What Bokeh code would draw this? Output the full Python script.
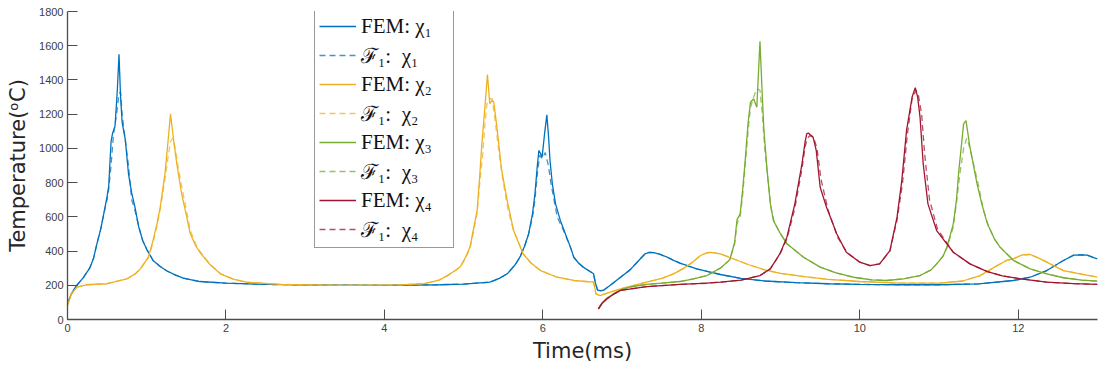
from bokeh.plotting import figure
from bokeh.models import Range1d, FixedTicker
from bokeh.embed import file_html
from bokeh.resources import INLINE

# ---------------- data ----------------
x_ticks = [0, 2, 4, 6, 8, 10, 12]
y_ticks = [0, 200, 400, 600, 800, 1000, 1200, 1400, 1600, 1800]

labels = ["FEM: χ₁", "ℱ₁:  χ₁", "FEM: χ₂", "ℱ₁:  χ₂",
          "FEM: χ₃", "ℱ₁:  χ₃", "FEM: χ₄", "ℱ₁:  χ₄"]

# chi_1  (blue)
t_fem1 = [0, 0.05, 0.1, 0.2, 0.28, 0.33, 0.37, 0.42, 0.45, 0.5, 0.52, 0.55, 0.57, 0.6, 0.63, 0.65,
          0.67, 0.69, 0.73, 0.77, 0.81, 0.85, 0.9, 0.95, 1.0, 1.08, 1.17, 1.25, 1.35, 1.46, 1.67, 2.0,
          2.5, 3.0, 4.0, 4.7, 5.0, 5.33, 5.45, 5.55, 5.65, 5.71, 5.77, 5.82, 5.87, 5.9, 5.93, 5.95,
          5.97, 5.99, 6.02, 6.05, 6.07, 6.09, 6.12, 6.16, 6.22, 6.26, 6.3, 6.35, 6.39, 6.45, 6.51,
          6.58, 6.64, 6.66, 6.69, 6.73, 6.77, 6.85, 6.98, 7.1, 7.21, 7.29, 7.34, 7.4, 7.48, 7.57,
          7.65, 7.73, 7.85, 7.94, 8.1, 8.24, 8.5, 8.8, 9.2, 9.6, 10.0, 10.5, 11.0, 11.5, 11.94,
          12.15, 12.36, 12.57, 12.7, 12.8, 12.87, 12.95, 13.0]
T_fem1 = [93, 150, 190, 245, 300, 360, 440, 530, 600, 720, 780, 1040, 1090, 1130, 1350, 1550,
          1300, 1150, 1050, 850, 740, 660, 540, 460, 410, 345, 310, 285, 262, 242, 222, 212,
          205, 202, 200, 203, 207, 218, 240, 267, 320, 364, 430, 500, 620, 735, 900, 988,
          970, 949, 1080, 1196, 1080, 929, 790, 676, 579, 530, 481, 420, 364, 330, 306,
          285, 267, 218, 172, 168, 172, 200, 247, 290, 345, 384, 392, 391, 380, 364,
          346, 329, 310, 296, 278, 263, 240, 225, 215, 209, 205, 203, 203, 208, 228,
          247, 286, 345, 376, 378, 376, 362, 355]
t_f1_1 = [0, 0.05, 0.1, 0.2, 0.28, 0.33, 0.37, 0.42, 0.45, 0.5, 0.52, 0.55, 0.58, 0.62, 0.65,
          0.67, 0.69, 0.72, 0.77, 0.81, 0.85, 0.9, 0.95, 1.0, 1.08, 1.17, 1.25, 1.35, 1.46, 1.67,
          2.0, 2.5, 3.0, 4.0, 4.7, 5.0, 5.33, 5.45, 5.55, 5.65, 5.71, 5.77, 5.82, 5.87, 5.9, 5.93,
          5.96, 5.99, 6.03, 6.07, 6.1, 6.14, 6.18, 6.22, 6.26, 6.3, 6.35, 6.39, 6.45, 6.51, 6.58,
          6.64, 6.66, 6.69, 6.73, 6.77, 6.85, 6.98, 7.1, 7.21, 7.29, 7.34, 7.4, 7.48, 7.57, 7.65,
          7.73, 7.85, 7.94, 8.1, 8.24, 8.5, 8.8, 9.2, 9.6, 10.0, 10.5, 11.0, 11.5, 11.94, 12.15,
          12.36, 12.57, 12.7, 12.8, 12.87, 12.95, 13.0]
T_f1_1 = [93, 150, 190, 245, 300, 360, 440, 530, 600, 700, 760, 900, 1080, 1200, 1320,
          1330, 1200, 1080, 900, 700, 640, 540, 460, 410, 345, 310, 285, 262, 242, 222,
          212, 205, 202, 200, 203, 207, 218, 240, 267, 320, 364, 430, 500, 600, 700, 850,
          960, 940, 975, 900, 800, 700, 600, 560, 520, 475, 420, 364, 330, 306, 285,
          267, 218, 172, 168, 172, 200, 247, 290, 345, 384, 392, 391, 380, 364, 346,
          329, 310, 296, 278, 263, 240, 225, 215, 209, 205, 203, 203, 208, 228, 247,
          286, 345, 376, 378, 376, 362, 355]

# chi_2  (orange)
t_fem2 = [0, 0.05, 0.12, 0.24, 0.5, 0.75, 0.85, 0.92, 1.02, 1.08, 1.13, 1.17, 1.23, 1.27, 1.3,
          1.34, 1.38, 1.44, 1.5, 1.55, 1.62, 1.67, 1.8, 1.93, 2.1, 2.26, 2.68, 3.5, 4.2, 4.5,
          4.6, 4.7, 4.8, 4.9, 4.96, 5.02, 5.08, 5.12, 5.17, 5.2, 5.23, 5.27, 5.3, 5.33, 5.36,
          5.38, 5.42, 5.48, 5.55, 5.63, 5.75, 5.85, 5.97, 6.18, 6.39, 6.64, 6.67, 6.72, 6.85,
          6.98, 7.31, 7.5, 7.65, 7.78, 7.86, 7.99, 8.07, 8.12, 8.24, 8.4, 8.6, 8.8, 9.0, 9.3,
          9.6, 10.0, 10.5, 11.0, 11.3, 11.52, 11.7, 11.85, 11.94, 12.05, 12.15, 12.25, 12.36,
          12.57, 12.78, 13.0]
T_fem2 = [82, 151, 189, 203, 209, 238, 265, 296, 364, 462, 560, 656, 851, 1046, 1202,
          1046, 910, 735, 610, 501, 430, 393, 320, 267, 235, 218, 205, 200, 202, 210,
          220, 232, 258, 288, 310, 360, 423, 520, 637, 820, 1027, 1250, 1432, 1261, 1280,
          1270, 1124, 871, 695, 520, 384, 330, 286, 247, 228, 218, 150, 140, 160,
          179, 218, 240, 267, 300, 325, 374, 390, 392, 384, 355, 320, 290, 270, 250,
          235, 222, 212, 212, 225, 257, 306, 345, 355, 378, 380, 360, 335,
          286, 267, 247]
t_f1_2 = [0, 0.05, 0.12, 0.24, 0.5, 0.75, 0.85, 0.92, 1.02, 1.08, 1.13, 1.17, 1.23, 1.27, 1.3,
          1.33, 1.36, 1.4, 1.45, 1.5, 1.55, 1.62, 1.67, 1.8, 1.93, 2.1, 2.26, 2.68, 3.5, 4.2,
          4.5, 4.6, 4.7, 4.8, 4.9, 4.96, 5.02, 5.08, 5.12, 5.17, 5.2, 5.24, 5.27, 5.3, 5.33,
          5.36, 5.4, 5.45, 5.5, 5.56, 5.63, 5.75, 5.85, 5.97, 6.18, 6.39, 6.64, 6.67, 6.72,
          6.85, 6.98, 7.31, 7.5, 7.65, 7.78, 7.86, 7.99, 8.07, 8.12, 8.24, 8.4, 8.6, 8.8, 9.0,
          9.3, 9.6, 10.0, 10.5, 11.0, 11.3, 11.52, 11.7, 11.85, 11.94, 12.05, 12.15, 12.25,
          12.36, 12.57, 12.78, 13.0]
T_f1_2 = [82, 151, 189, 203, 209, 238, 265, 296, 360, 450, 550, 640, 820, 950, 1040,
          1060, 1000, 880, 760, 640, 520, 440, 400, 322, 268, 235, 218, 205, 200, 202,
          210, 220, 232, 258, 288, 310, 355, 415, 500, 620, 780, 960, 1150, 1280, 1290,
          1290, 1150, 960, 800, 640, 520, 384, 330, 286, 247, 228, 218, 150, 140,
          160, 179, 218, 240, 267, 300, 325, 374, 390, 392, 384, 355, 320, 290, 270,
          250, 235, 222, 212, 212, 225, 257, 306, 345, 355, 378, 380, 360,
          335, 286, 267, 247]

# chi_3  (green)
t_fem3 = [6.7, 6.75, 6.81, 6.9, 6.98, 7.1, 7.31, 7.5, 7.73, 7.9, 8.07, 8.24, 8.36, 8.42, 8.45,
          8.49, 8.52, 8.55, 8.59, 8.62, 8.66, 8.7, 8.74, 8.77, 8.79, 8.83, 8.87, 8.91, 9.0,
          9.08, 9.29, 9.5, 9.7, 9.92, 10.15, 10.34, 10.55, 10.76, 10.9, 10.97, 11.05, 11.1,
          11.18, 11.22, 11.25, 11.31, 11.34, 11.39, 11.48, 11.54, 11.61, 11.7, 11.77, 11.94,
          12.15, 12.36, 12.57, 12.8, 13.0]
T_fem3 = [62, 100, 125, 152, 172, 190, 205, 212, 222, 238, 257, 300, 350, 450, 582,
          617, 750, 910, 1150, 1270, 1290, 1240, 1626, 1300, 1105, 870, 680, 578, 500,
          443, 364, 306, 272, 247, 232, 228, 238, 257, 290, 325, 370, 423,
          559, 700, 870, 1143, 1163, 1007, 793, 676, 559, 470, 423, 345,
          296, 267, 244, 230, 224]
t_f1_3 = [6.7, 6.75, 6.81, 6.9, 6.98, 7.1, 7.31, 7.5, 7.73, 7.9, 8.07, 8.24, 8.36, 8.42, 8.45,
          8.49, 8.52, 8.55, 8.59, 8.62, 8.66, 8.7, 8.74, 8.77, 8.8, 8.84, 8.88, 8.92, 9.0,
          9.08, 9.29, 9.5, 9.7, 9.92, 10.15, 10.34, 10.55, 10.76, 10.9, 10.97, 11.05, 11.1,
          11.18, 11.22, 11.26, 11.31, 11.35, 11.39, 11.45, 11.5, 11.56, 11.63, 11.7, 11.77,
          11.94, 12.15, 12.36, 12.57, 12.8, 13.0]
T_f1_3 = [62, 100, 125, 152, 172, 190, 205, 212, 222, 238, 257, 300, 350, 440, 560,
          600, 720, 880, 1100, 1240, 1300, 1350, 1340, 1200, 1000, 820, 650, 570, 500,
          443, 364, 306, 272, 247, 232, 228, 238, 257, 290, 325, 370, 420,
          540, 680, 840, 1000, 1060, 1000, 880, 780, 640, 540, 470, 423,
          345, 296, 267, 244, 230, 224]

# chi_4  (dark red)
t_fem4 = [6.7, 6.75, 6.81, 6.9, 6.98, 7.31, 7.73, 8.07, 8.24, 8.5, 8.74, 8.87, 8.99, 9.08,
          9.18, 9.27, 9.31, 9.33, 9.35, 9.41, 9.45, 9.5, 9.58, 9.71, 9.83, 10.0, 10.13, 10.25,
          10.38, 10.47, 10.53, 10.59, 10.66, 10.7, 10.73, 10.76, 10.8, 10.86, 10.97, 11.18,
          11.39, 11.61, 11.8, 12.03, 12.36, 12.7, 13.0]
T_fem4 = [62, 95, 121, 150, 170, 192, 205, 212, 218, 230, 257, 296, 383, 481,
          676, 910, 1040, 1085, 1090, 1066, 988, 773, 656, 500, 393, 335, 315, 325,
          403, 598, 812, 1105, 1300, 1355, 1300, 1183, 910, 676, 520, 393,
          325, 280, 255, 238, 218, 210, 205]
t_f1_4 = [6.7, 6.75, 6.81, 6.9, 6.98, 7.31, 7.73, 8.07, 8.24, 8.5, 8.74, 8.87, 8.99, 9.08,
          9.18, 9.27, 9.31, 9.34, 9.37, 9.42, 9.46, 9.51, 9.6, 9.72, 9.84, 10.0, 10.13, 10.25,
          10.38, 10.47, 10.54, 10.6, 10.66, 10.71, 10.74, 10.78, 10.82, 10.88, 10.98, 11.18,
          11.39, 11.61, 11.8, 12.03, 12.36, 12.7, 13.0]
T_f1_4 = [62, 95, 121, 150, 170, 192, 205, 212, 218, 230, 257, 296, 380, 470,
          650, 880, 1010, 1060, 1075, 1060, 1000, 820, 640, 480, 390, 335, 315, 325,
          400, 580, 800, 1080, 1290, 1340, 1310, 1200, 960, 700, 530, 393,
          325, 280, 255, 238, 218, 210, 205]

colors = ["#0072BD", "#EDB120", "#77AC30", "#A2142F"]

series = [
    (t_fem1, T_fem1, t_f1_1, T_f1_1),
    (t_fem2, T_fem2, t_f1_2, T_f1_2),
    (t_fem3, T_fem3, t_f1_3, T_f1_3),
    (t_fem4, T_fem4, t_f1_4, T_f1_4),
]

# ---------------- figure ----------------
p = figure(width=1098, height=369, output_backend="svg", toolbar_location=None,
           x_range=Range1d(0, 13), y_range=Range1d(0, 1800),
           min_border_left=67, min_border_right=1, min_border_top=11, min_border_bottom=50)

for i, (tf, Tf, td, Td) in enumerate(series):
    p.line(tf, Tf, line_color=colors[i], line_width=1.3, legend_label=labels[2 * i])
    p.line(td, Td, line_color=colors[i], line_width=1.3, line_dash="6 4", line_alpha=0.75,
           legend_label=labels[2 * i + 1])

p.grid.visible = False
p.outline_line_color = None
p.background_fill_color = "white"

p.xaxis.ticker = FixedTicker(ticks=x_ticks)
p.yaxis.ticker = FixedTicker(ticks=y_ticks)
p.xaxis.axis_label = "Time(ms)"
p.yaxis.axis_label = "Temperature(ᵒC)"

for ax in (p.xaxis[0], p.yaxis[0]):
    ax.axis_line_color = "#4d4d4d"
    ax.axis_line_width = 1.3
    ax.major_tick_line_color = "#4d4d4d"
    ax.major_tick_in = 10
    ax.major_tick_out = 0
    ax.minor_tick_line_color = None
    ax.major_label_text_font = "Liberation Sans"
    ax.major_label_text_font_size = "11px"
    ax.major_label_text_color = "#404040"
    ax.axis_label_text_font = "DejaVu Sans"
    ax.axis_label_text_font_size = "21px"
    ax.axis_label_text_font_style = "normal"
    ax.axis_label_text_color = "#262626"

p.xaxis.major_label_standoff = 4
p.yaxis.major_label_standoff = 4
p.xaxis.axis_label_standoff = 4
p.yaxis.axis_label_standoff = 6

lg = p.legend[0]
lg.location = (247, 71)
lg.label_text_font = "Liberation Serif"
lg.label_text_font_size = "21px"
lg.label_text_color = "#111111"
lg.glyph_width = 37
lg.glyph_height = 26
lg.label_height = 26
lg.label_width = 88
lg.spacing = 2
lg.padding = 4
lg.margin = 0
lg.label_standoff = 5
lg.border_line_color = "#333333"
lg.border_line_width = 1
lg.background_fill_alpha = 1.0

open("out.html", "w").write(file_html(p, INLINE))
